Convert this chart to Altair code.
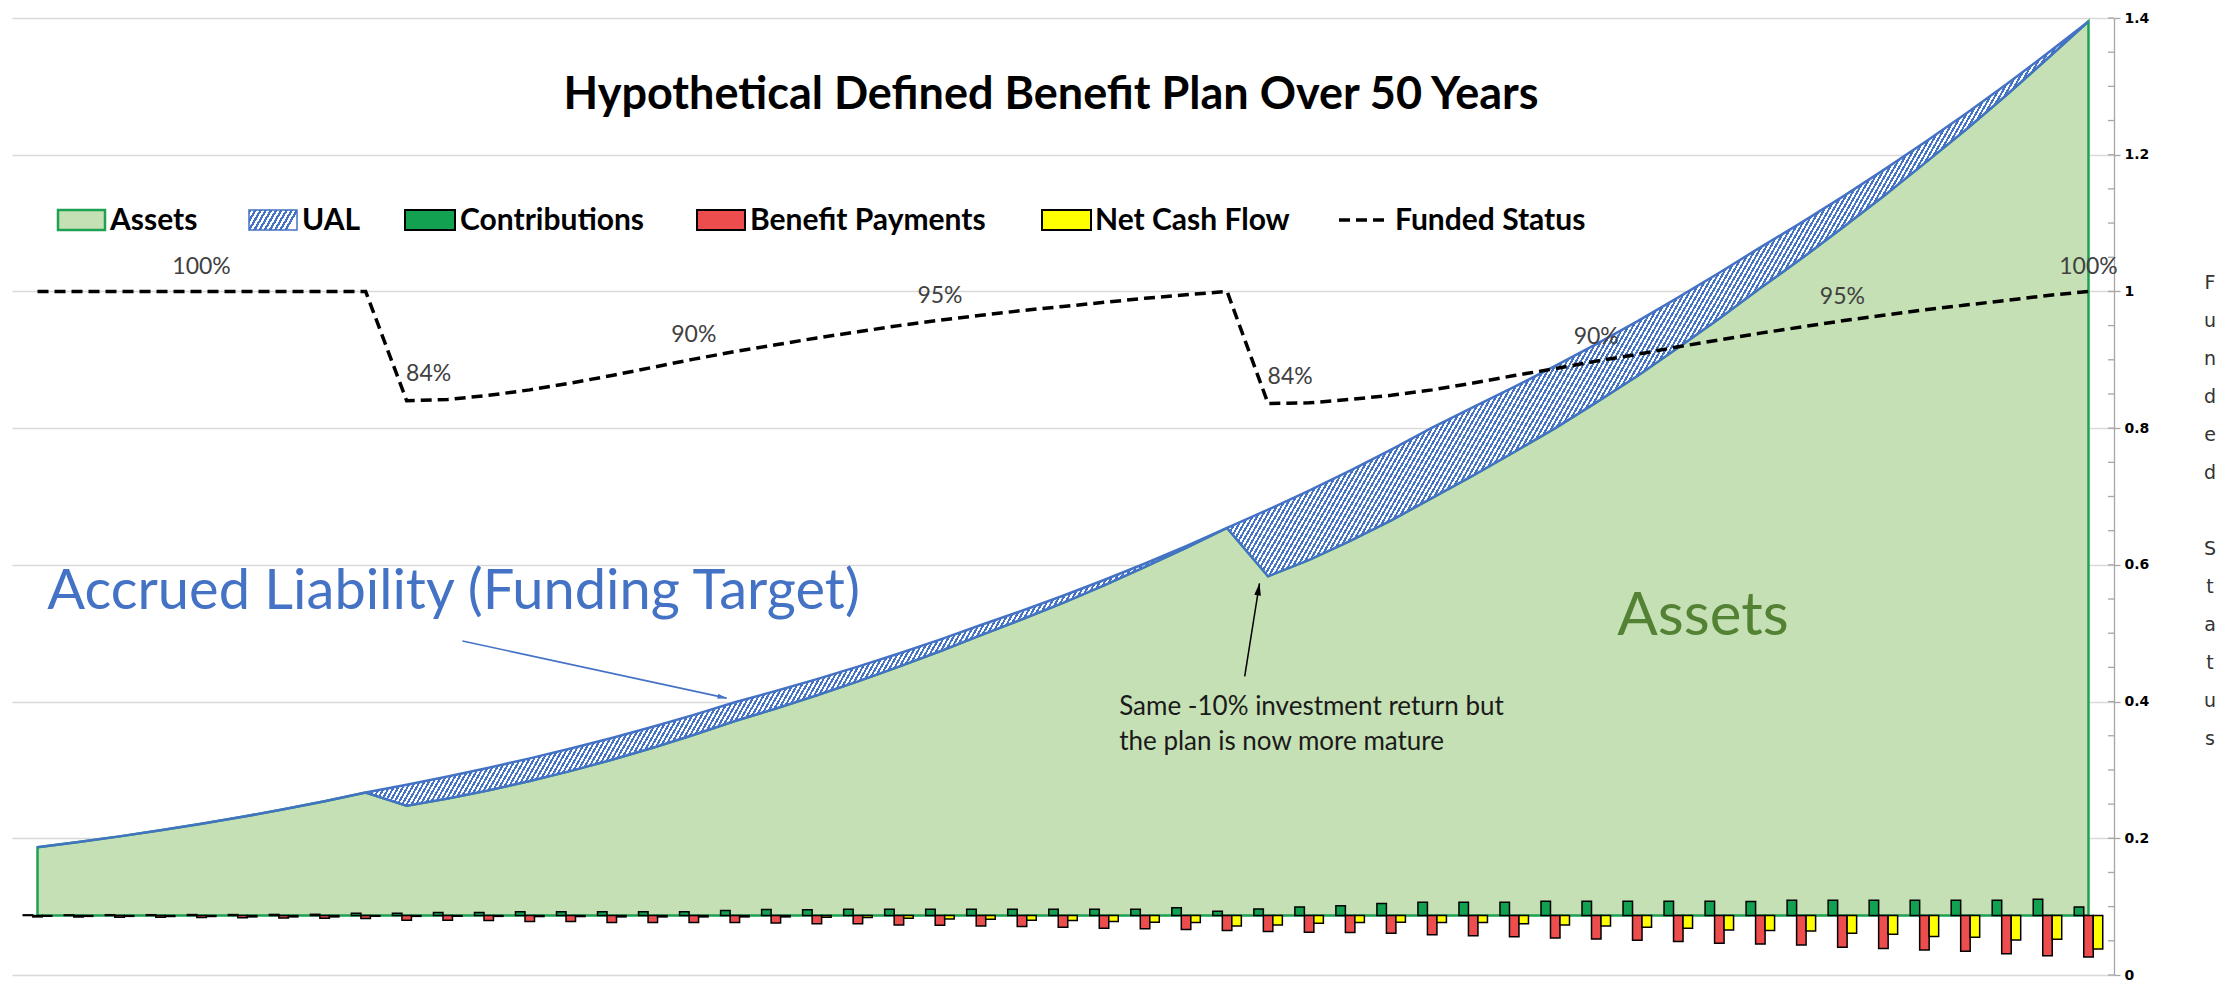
import math
import altair as alt
import pandas as pd

# ---------------- data ----------------
years = list(range(51))

# accrued liability (funding target), $M
liability = [100.0, 107.6, 115.8, 124.7, 134.2, 144.4, 155.4, 167.3, 180.0, 191.4,
             203.4, 216.2, 229.9, 244.3, 259.7, 276.1, 293.5, 312.0, 328.5, 345.8,
             364.1, 383.4, 403.6, 425.0, 445.9, 467.8, 490.9, 515.0, 540.4, 567.0,
             593.7, 621.7, 651.0, 681.7, 713.8, 743.6, 773.2, 804.0, 836.0, 869.2,
             904.3, 940.3, 977.5, 1013.7, 1051.4, 1090.4, 1130.8, 1172.7, 1216.2, 1261.3,
             1308.0]

# market value of assets, $M
assets = [100.0, 107.6, 115.8, 124.7, 134.2, 144.4, 155.4, 167.3, 180.0, 160.8,
          171.3, 183.3, 196.8, 211.6, 227.8, 245.5, 264.4, 284.5, 302.9, 322.3,
          342.6, 364.2, 386.6, 410.1, 433.4, 457.5, 483.0, 509.9, 537.7, 567.0,
          496.3, 520.4, 548.1, 578.1, 611.0, 644.0, 678.1, 713.1, 750.7, 789.2,
          831.1, 873.5, 917.9, 961.0, 1006.2, 1052.2, 1100.3, 1149.2, 1200.4, 1253.7,
          1308.0]

funded_status = [1.000, 1.000, 1.000, 1.000, 1.000, 1.000, 1.000, 1.000, 1.000, 0.840,
                 0.842, 0.848, 0.856, 0.866, 0.877, 0.889, 0.901, 0.912, 0.922, 0.932,
                 0.941, 0.950, 0.958, 0.965, 0.972, 0.978, 0.984, 0.990, 0.995, 1.000,
                 0.836, 0.837, 0.842, 0.848, 0.856, 0.866, 0.877, 0.887, 0.898, 0.908,
                 0.919, 0.929, 0.939, 0.948, 0.957, 0.965, 0.973, 0.980, 0.987, 0.994,
                 1.000]

contributions = [1.0, 1.0, 1.2, 1.2, 1.4, 1.4, 1.6, 1.8, 3.4, 3.4,
                 4.4, 4.4, 5.4, 5.4, 5.4, 5.4, 5.4, 7.3, 8.8, 8.3,
                 9.3, 9.3, 9.3, 9.3, 9.3, 9.3, 9.3, 9.3, 11.2, 6.4,
                 9.6, 12.5, 14.4, 17.5, 19.3, 19.3, 19.3, 20.8, 20.8, 20.8,
                 20.8, 20.8, 20.6, 22.2, 22.2, 22.2, 22.2, 22.2, 22.2, 23.7,
                 12.6]

benefit_payments = [-2.0, -2.2, -2.4, -2.6, -2.8, -3.4, -3.6, -3.8, -4.4, -6.8,
                    -6.8, -7.3, -8.8, -8.8, -10.3, -10.3, -10.3, -10.3, -10.8, -12.2,
                    -12.2, -13.7, -14.2, -15.2, -16.1, -17.1, -18.6, -19.5, -20.3, -22.0,
                    -23.4, -24.4, -24.9, -26.1, -28.0, -29.5, -31.2, -32.8, -34.4, -36.2,
                    -38.0, -40.5, -41.8, -43.0, -46.4, -48.1, -50.3, -52.3, -56.0, -58.8,
                    -60.6]

net_cash_flow = [-1.0, -1.2, -1.2, -1.4, -1.4, -2.0, -2.0, -2.0, -1.0, -1.2,
                 -1.0, -1.2, -1.5, -1.5, -2.0, -2.0, -2.0, -2.0, -2.0, -2.5,
                 -3.0, -3.9, -4.9, -5.4, -6.8, -7.3, -8.8, -9.8, -10.3, -15.2,
                 -13.7, -11.2, -10.3, -9.8, -10.3, -10.3, -12.2, -13.7, -15.2, -17.1,
                 -18.6, -21.0, -22.0, -22.5, -25.9, -27.4, -30.8, -31.8, -35.7, -34.7,
                 -48.9]

pct_label_years = [4, 16, 22, 38, 44, 50]
pct_label_texts = ["100%", "90%", "95%", "90%", "95%", "100%"]
dip_label_years = [9, 30]
dip_label_texts = ["84%", "84%"]

right_axis_values = [0, 0.2, 0.4, 0.6, 0.8, 1.0, 1.2, 1.4]
minor_tick_values = [0, 0.05, 0.1, 0.15, 0.2, 0.25, 0.3, 0.35, 0.4, 0.45, 0.5, 0.55,
                     0.6, 0.65, 0.7, 0.75, 0.8, 0.85, 0.9, 0.95, 1.0, 1.05, 1.1, 1.15,
                     1.2, 1.25, 1.3, 1.35, 1.4]

legend_labels = ["Assets", "UAL", "Contributions", "Benefit Payments", "Net Cash Flow", "Funded Status"]
title_text = "Hypothetical Defined Benefit Plan Over 50 Years"
axis_title_word1 = ["F", "u", "n", "d", "e", "d"]
axis_title_word2 = ["S", "t", "a", "t", "u", "s"]

liability_note = "Accrued Liability (Funding Target)"
liability_note_at = [0.24, 448]
assets_note = "Assets"
assets_note_at = [40.6, 436]
maturity_note = "Same -10% investment return but\nthe plan is now more mature"
maturity_note_at = [26.37, 293]
blue_arrow = [10.36, 401.6, 16.8, 318]
black_arrow = [29.43, 350, 29.79, 486]

# ---------------- styling ----------------
W, H = 2102, 957
PAD = {"left": 12, "top": 18, "right": 124, "bottom": 6}

AREA_GREEN = "#C5E0B4"
EDGE_GREEN = "#1EA152"
BAR_GREEN = "#12A051"
BAR_RED = "#EE4D4D"
BAR_YELLOW = "#FFFF00"
BLUE = "#4472C4"
FONT = "Lato"

ARROW_PATH = "M0,0L0.5,1.8L-0.5,1.8Z"


def hatch(width_px, height_px, period=4.0, duty=0.5, angle=60.0, ink=BLUE, paper="#FFFFFF"):
    k = height_px / (math.tan(math.radians(angle)) * width_px)
    per_px = math.sqrt((1.0 / width_px) ** 2 + (k / height_px) ** 2) / (1 + k * k)
    dt = period * per_px
    stops = []
    t = 0.0
    while t < 1.0:
        a = round(t, 6)
        b = round(min(t + duty * dt, 1.0), 6)
        c = round(min(t + dt, 1.0), 6)
        stops += [alt.GradientStop(color=ink, offset=a), alt.GradientStop(color=ink, offset=b),
                  alt.GradientStop(color=paper, offset=b), alt.GradientStop(color=paper, offset=c)]
        t += dt
    return alt.LinearGradient(gradient="linear", stops=stops, x1=0, y1=0, x2=1, y2=round(k, 5))


df = pd.DataFrame({
    "year": years,
    "liability": liability,
    "assets": assets,
    "funded": funded_status,
    "contributions": contributions,
    "benefits": benefit_payments,
    "net": net_cash_flow,
})

xs = alt.Scale(domain=[-0.5, 50.5], nice=False, zero=False)
yp = alt.Scale(domain=[-87, 1313], nice=False, zero=False)
yr = alt.Scale(domain=[0, 1.4], nice=False, zero=False)

X = alt.X("year:Q", scale=xs, axis=None)


def YP(f):
    return alt.Y(f"{f}:Q", scale=yp, axis=None)


right_axis = alt.Axis(
    orient="right", values=right_axis_values, format="~g", title=None,
    grid=True, gridColor="#D9D9D9", gridWidth=1.3,
    domain=True, domainColor="#A6A6A6", domainWidth=1.3,
    ticks=True, tickColor="#A6A6A6", tickSize=6, tickWidth=1.3,
    labelPadding=4, labelFont="DejaVu Sans", labelFontSize=14, labelFontWeight="bold",
    labelColor="black",
)
YR = alt.Y("funded:Q", scale=yr, axis=right_axis)

base = alt.Chart(df)

assets_area = base.mark_area(fill=AREA_GREEN, stroke=EDGE_GREEN, strokeWidth=2.5, opacity=1).encode(
    x=X, y=YP("assets"), y2=alt.datum(0))

ual_area = base.mark_area(fill=hatch(2061, 826), stroke=BLUE, strokeWidth=2.5, opacity=1).encode(
    x=X, y=YP("liability"), y2="assets:Q")


def bars(field, fill, off):
    return base.mark_bar(size=9.5, xOffset=off, fill=fill, stroke="black", strokeWidth=1.5,
                         orient="vertical", opacity=1).encode(x=X, y=YP(field), y2=alt.datum(0))


bar_c = bars("contributions", BAR_GREEN, -9.5)
bar_b = bars("benefits", BAR_RED, 0)
bar_n = bars("net", BAR_YELLOW, 9.5)

# annotations
liab_txt = alt.Chart(pd.DataFrame({"year": [liability_note_at[0]], "value": [liability_note_at[1]],
                                   "label": [liability_note]})).mark_text(
    align="left", baseline="alphabetic", font=FONT, fontSize=56, color=BLUE).encode(
    x=X, y=YP("value"), text="label:N")

assets_txt = alt.Chart(pd.DataFrame({"year": [assets_note_at[0]], "value": [assets_note_at[1]],
                                     "label": [assets_note]})).mark_text(
    align="center", baseline="middle", font=FONT, fontSize=60, color="#548235").encode(
    x=X, y=YP("value"), text="label:N")

mature_txt = alt.Chart(pd.DataFrame({"year": [maturity_note_at[0]], "value": [maturity_note_at[1]],
                                     "label": [maturity_note]})).mark_text(
    align="left", baseline="alphabetic", font=FONT, fontSize=26, color="#1A1A1A",
    lineBreak="\n", lineHeight=35).encode(x=X, y=YP("value"), text="label:N")


def arrow(spec, color, width, head_size, angle):
    d = pd.DataFrame({"year": [spec[0]], "value": [spec[1]], "year2": [spec[2]], "value2": [spec[3]]})
    line = alt.Chart(d).mark_rule(color=color, strokeWidth=width).encode(
        x=X, y=YP("value"), x2="year2:Q", y2="value2:Q")
    d2 = pd.DataFrame({"year": [spec[2]], "value": [spec[3]]})
    head = alt.Chart(d2).mark_point(shape=ARROW_PATH, size=head_size, angle=angle, filled=True,
                                    color=color, opacity=1, strokeWidth=0).encode(x=X, y=YP("value"))
    return line + head


arrow_blue = arrow(blue_arrow, BLUE, 1.6, 100, 102)
arrow_black = arrow(black_arrow, "black", 1.5, 180, 9)

# title
one = pd.DataFrame({"a": [0]})
title = alt.Chart(one).mark_text(text=title_text, font=FONT, fontSize=45, fontWeight="bold",
                                 align="center", baseline="alphabetic", color="black").encode(
    x=alt.value(1039), y=alt.value(91))

# right-axis title, stacked letters (Excel "stacked" text)
LINE_H = 38


def stacked(letters, y_top):
    return alt.Chart(one).mark_text(text=letters, font="DejaVu Sans", fontSize=19, color="#333333",
                                    align="center", baseline="top", lineHeight=LINE_H).encode(
        x=alt.value(W + 96), y=alt.value(y_top))


axis_title_1 = stacked(axis_title_word1, 256)
axis_title_2 = stacked(axis_title_word2, 256 + 7 * LINE_H)

# legend (hand-built, Excel style)
LEG_Y0, LEG_Y1, LEG_BASE = 192, 212, 212


def swatch(x0, x1, fill, stroke, sw):
    return alt.Chart(one).mark_rect(fill=fill, stroke=stroke, strokeWidth=sw, opacity=1).encode(
        x=alt.value(x0), x2=alt.value(x1), y=alt.value(LEG_Y0), y2=alt.value(LEG_Y1))


def leg_text(x, label):
    return alt.Chart(one).mark_text(text=label, font=FONT, fontSize=30, fontWeight="bold",
                                    align="left", baseline="alphabetic", color="black").encode(
        x=alt.value(x), y=alt.value(LEG_BASE))


legend_layers = [
    swatch(46, 93, AREA_GREEN, EDGE_GREEN, 2.5), leg_text(98, legend_labels[0]),
    swatch(237, 285, hatch(48, 20, period=4.5), BLUE, 1.5), leg_text(290, legend_labels[1]),
    swatch(393, 443, BAR_GREEN, "black", 2), leg_text(448, legend_labels[2]),
    swatch(685, 733, BAR_RED, "black", 2), leg_text(738, legend_labels[3]),
    swatch(1030, 1079, BAR_YELLOW, "black", 2), leg_text(1083, legend_labels[4]),
    alt.Chart(one).mark_rule(color="black", strokeWidth=3.5, strokeDash=[11, 6]).encode(
        x=alt.value(1327), x2=alt.value(1375), y=alt.value(202)),
    leg_text(1383, legend_labels[5]),
]

primary = alt.layer(assets_area, ual_area, bar_c, bar_b, bar_n, liab_txt, assets_txt, mature_txt,
                    arrow_blue, arrow_black, title, axis_title_1, axis_title_2, *legend_layers)

# funded status (right axis)
funded_line = base.mark_line(color="black", strokeWidth=3.5, strokeDash=[11, 6]).encode(x=X, y=YR)

lab_df = pd.DataFrame({"year": pct_label_years,
                       "funded": [funded_status[y] for y in pct_label_years],
                       "label": pct_label_texts})
dip_df = pd.DataFrame({"year": dip_label_years,
                       "funded": [funded_status[y] for y in dip_label_years],
                       "label": dip_label_texts})
pct_labels = alt.Chart(lab_df).mark_text(font=FONT, fontSize=23, color="#404040", dy=-24,
                                         baseline="middle").encode(x=X, y=YR, text="label:N")
dip_labels = alt.Chart(dip_df).mark_text(font=FONT, fontSize=23, color="#404040", dx=22, dy=-27,
                                         baseline="middle").encode(x=X, y=YR, text="label:N")
minor_ticks = alt.Chart(pd.DataFrame({"funded": minor_tick_values})).mark_rule(
    color="#A6A6A6", strokeWidth=1.3).encode(y=YR, x=alt.value(W - 6), x2=alt.value(W))

secondary = alt.layer(funded_line, pct_labels, dip_labels, minor_ticks)

chart = alt.layer(primary, secondary).resolve_scale(y="independent").properties(
    width=W, height=H, padding=PAD, autosize=alt.AutoSizeParams(type="none"), background="white"
).configure_view(stroke=None)

chart.save("out.html", embed_options={"renderer": "svg", "actions": False})
